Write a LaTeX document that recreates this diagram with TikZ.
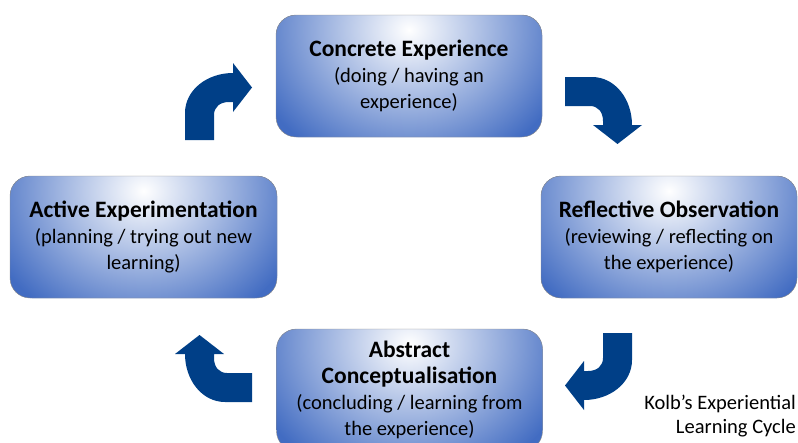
\documentclass[tikz,border=0pt]{standalone}
\usepackage{fontspec}
\setmainfont{Carlito}
\definecolor{boxedge}{RGB}{66,108,194}
\definecolor{turnblue}{RGB}{0,63,135}
\newcommand{\stagetitle}[1]{{\fontsize{23.5}{26}\selectfont\bfseries #1}}
\tikzset{
  stage/.style={draw=black!45, thin, rounded corners=20pt, fill=boxedge,
    minimum width=266pt, minimum height=122pt, align=center, inner sep=2pt,
    font=\fontsize{20.5}{26}\selectfont,
    path picture={\shade[inner color=white, outer color=boxedge]
      ([yshift=-15pt]path picture bounding box.north) ellipse [x radius=165pt, y radius=145pt];}},
  bentarrow/.pic={
    \fill[turnblue] (0,0) -- (0,-27) .. controls (0,-50) and (22,-67) .. (48,-67)
      -- (48,-77) -- (67,-52.5) -- (48,-28) -- (48,-38) -- (44,-38)
      .. controls (35,-38) and (29,-33) .. (29,-25) -- (29,0) -- cycle;
  }
}
\begin{document}
\begin{tikzpicture}[x=1pt, y=-1pt]
  \useasboundingbox (0,0) rectangle (798,442);
  \clip (0,0) rectangle (798,442);
  % the four stages
  \node[stage] (concrete) at (409,76) {\stagetitle{Concrete Experience}\\(doing / having an\\experience)};
  \node[stage, minimum width=256pt] (reflective) at (669,237) {\stagetitle{Reflective Observation}\\(reviewing / reflecting on\\the experience)};
  \node[stage] (abstract) at (409.5,390) {\stagetitle{Abstract}\\\stagetitle{Conceptualisation}\\(concluding / learning from\\the experience)};
  \node[stage, minimum width=267pt] (active) at (143.5,237) {\stagetitle{Active Experimentation}\\(planning / trying out new\\learning)};
  % turning arrows
  \pic at (185,140) {bentarrow};
  \pic[rotate=-90] at (565,77) {bentarrow};
  \pic[rotate=180] at (632,333) {bentarrow};
  \pic[rotate=90] at (252,402) {bentarrow};
  \node[anchor=east, align=right, inner sep=0pt, font=\fontsize{20.5}{24}\selectfont] (caption) at (796,416.5) {Kolb’s Experiential\\Learning Cycle};
\end{tikzpicture}
\end{document}
